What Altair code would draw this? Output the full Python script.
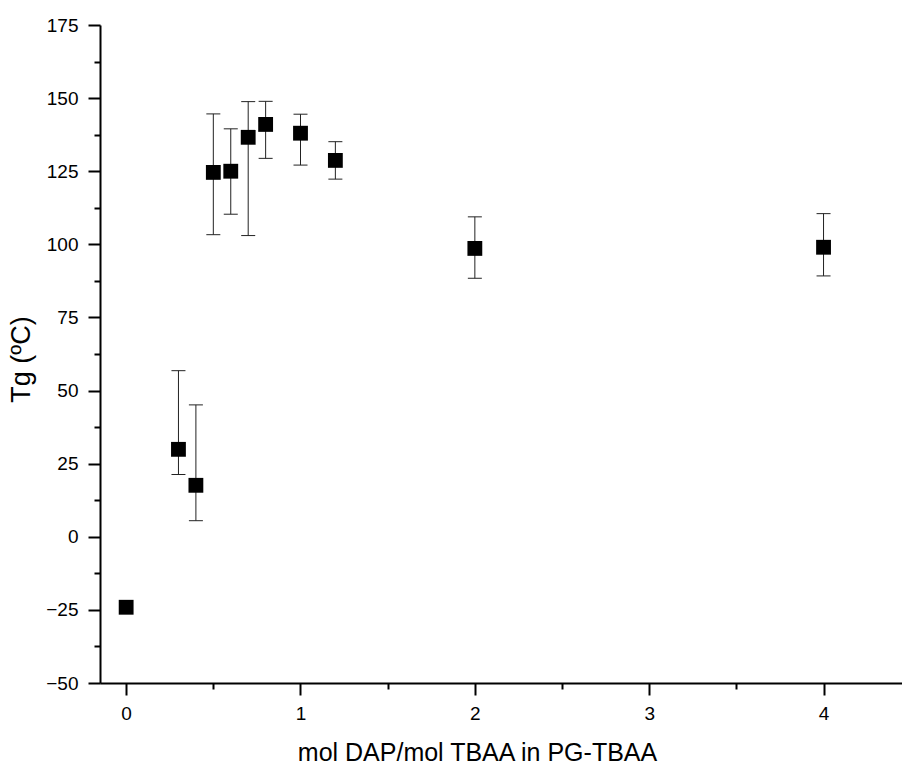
import altair as alt
import pandas as pd

x_vals = [0, 0.3, 0.4, 0.5, 0.6, 0.7, 0.8, 1.0, 1.2, 2.0, 4.0]
tg_vals = [-24.1, 29.9, 17.6, 124.6, 125.0, 136.6, 141.0, 138.0, 128.7, 98.6, 99.0]
err_hi = [None, 56.8, 45.1, 144.6, 139.5, 148.8, 148.9, 144.5, 135.1, 109.4, 110.5]
err_lo = [None, 21.3, 5.5, 103.3, 110.3, 103.0, 129.4, 127.1, 122.3, 88.4, 89.2]

x_major = [0, 1, 2, 3, 4]
x_minor = [0.5, 1.5, 2.5, 3.5]
y_major = [-50, -25, 0, 25, 50, 75, 100, 125, 150, 175]
y_minor = [-37.5, -12.5, 12.5, 37.5, 62.5, 87.5, 112.5, 137.5, 162.5]

df = pd.DataFrame({"x": x_vals, "tg": tg_vals, "hi": err_hi, "lo": err_lo})

FONT = "Liberation Sans"
xs = alt.Scale(domain=[-0.15, 4.45], nice=False, zero=False)
ys = alt.Scale(domain=[-50, 175], nice=False, zero=False)

x_axis = alt.Axis(
    values=x_major, format="d", orient="bottom", grid=False,
    domainColor="black", domainWidth=2, tickColor="black", tickWidth=2, tickSize=12,
    labelFont=FONT, labelFontSize=19, labelColor="black", labelPadding=9,
    title="mol DAP/mol TBAA in PG-TBAA", titleFont=FONT, titleFontSize=25,
    titleFontWeight="normal", titleColor="black", titleX=377, titleY=77,
    titleBaseline="alphabetic", titleAlign="center",
)
y_axis = alt.Axis(
    values=y_major, format="d", orient="left", grid=False,
    domainColor="black", domainWidth=2, tickColor="black", tickWidth=2, tickSize=12,
    labelFont=FONT, labelFontSize=19, labelColor="black", labelPadding=10,
    title="Tg (ºC)", titleFont=FONT, titleFontSize=27, titleFontWeight="normal",
    titleColor="black", titleX=-71, titleY=334, titleBaseline="alphabetic",
    titleAlign="center", titleAngle=-90,
)
x_axis_minor = alt.Axis(
    values=x_minor, orient="bottom", grid=False, labels=False, domain=False,
    tickColor="black", tickWidth=2, tickSize=6, title=None,
)
y_axis_minor = alt.Axis(
    values=y_minor, orient="left", grid=False, labels=False, domain=False,
    tickColor="black", tickWidth=2, tickSize=6, title=None,
)

base = alt.Chart(df)

minor = base.mark_point(opacity=0).encode(
    x=alt.X("x:Q", scale=xs, axis=x_axis_minor),
    y=alt.Y("tg:Q", scale=ys, axis=y_axis_minor),
)

err = base.transform_filter("isValid(datum.hi)").mark_rule(
    color="#222", strokeWidth=1
).encode(
    x=alt.X("x:Q", scale=xs, axis=x_axis),
    y=alt.Y("lo:Q", scale=ys, axis=y_axis),
    y2="hi:Q",
)
cap_hi = base.transform_filter("isValid(datum.hi)").mark_tick(
    orient="horizontal", size=14, thickness=1, color="#222", opacity=1
).encode(x=alt.X("x:Q", scale=xs), y=alt.Y("hi:Q", scale=ys))
cap_lo = base.transform_filter("isValid(datum.hi)").mark_tick(
    orient="horizontal", size=14, thickness=1, color="#222", opacity=1
).encode(x=alt.X("x:Q", scale=xs), y=alt.Y("lo:Q", scale=ys))

pts = base.mark_point(shape="square", filled=True, size=220, color="black", opacity=1).encode(
    x=alt.X("x:Q", scale=xs),
    y=alt.Y("tg:Q", scale=ys),
)

main = alt.layer(err, cap_hi, cap_lo, pts)

chart = alt.layer(main, minor).resolve_axis(x="independent", y="independent").properties(
    width=802, height=658,
    padding={"left": 100, "top": 25, "right": 0, "bottom": 82},
    autosize=alt.AutoSizeParams(type="none"),
    background="white",
).configure_view(stroke=None)

chart.save("out.html", embed_options={"renderer": "svg", "actions": False})
